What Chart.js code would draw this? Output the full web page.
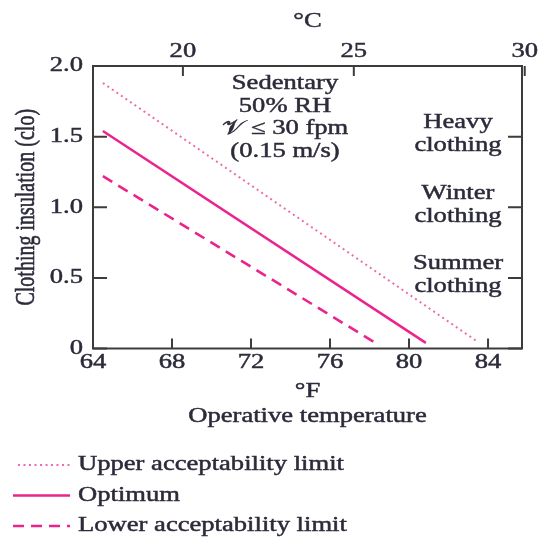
<!DOCTYPE html>
<html>
<head>
<meta charset="utf-8">
<script src="https://cdn.jsdelivr.net/npm/chart.js@4.4.1/dist/chart.umd.min.js"></script>
<style>
  html, body { margin: 0; padding: 0; background: #fff; }
  canvas { display: block; }
</style>
</head>
<body>
<canvas id="chart" width="539" height="537"></canvas>
<script>
(() => {
  'use strict';

  // axis ticks
  const F_TICKS = [64, 68, 72, 76, 80, 84];
  const C_TICKS = [20, 25, 30];
  const CLO_TICKS = [0, 0.5, 1.0, 1.5, 2.0];
  const CLO_LABELS = ['0', '0.5', '1.0', '1.5', '2.0'];

  // comfort lines (operative temperature in F, clothing in clo)
  const UPPER_F = [64.5, 83.45];
  const UPPER_CLO = [1.88, 0.05];
  const OPT_F = [64.5, 80.85];
  const OPT_CLO = [1.54, 0.04];
  const LOWER_F = [64.5, 78.3];
  const LOWER_CLO = [1.22, 0.04];

  const SERIES = ['Upper acceptability limit', 'Optimum', 'Lower acceptability limit'];

  // text blocks inside the plot
  const CONDITIONS = ['Sedentary', '50% RH', '𝒱 ≤ 30 fpm', '(0.15 m/s)'];
  const ZONES = [
    { lines: ['Heavy', 'clothing'], clo: 1.5 },
    { lines: ['Winter', 'clothing'], clo: 1.0 },
    { lines: ['Summer', 'clothing'], clo: 0.5 },
  ];

  const PINK = '#ea248c';
  const PINK_LIGHT = '#f06aae';
  const INK = '#2b2b3a';
  const FRAME = '#3c3c3c';
  const FONT = '20px "Liberation Serif", "Times New Roman", serif';
  const SX = 1.33; // wide type

  const pts = (xs, ys) => xs.map((x, i) => ({ x: x, y: ys[i] }));

  // stretched text helper, lightly stroked for weight
  const put = (ctx, str, x, y, align = 'center', rot = 0) => {
    ctx.save();
    ctx.translate(x, y);
    ctx.scale(SX, 1);
    if (rot) ctx.rotate(rot);
    ctx.textAlign = align;
    ctx.textBaseline = 'middle';
    ctx.fillText(str, 0, 0);
    ctx.lineWidth = 0.45;
    ctx.strokeStyle = INK;
    ctx.strokeText(str, 0, 0);
    ctx.restore();
  };

  // frame, inward ticks, labels and key
  const decor = {
    id: 'decor',
    afterDraw(chart) {
      const ctx = chart.ctx;
      const { left, right, top, bottom } = chart.chartArea;
      const sx = chart.scales.x, sc = chart.scales.x2, sy = chart.scales.y;

      ctx.save();
      ctx.strokeStyle = FRAME;
      ctx.lineWidth = 2;
      ctx.strokeRect(left, top, right - left, bottom - top);

      ctx.beginPath();
      F_TICKS.forEach((v) => {
        const px = sx.getPixelForValue(v);
        ctx.moveTo(px, bottom); ctx.lineTo(px, bottom - 10);
      });
      C_TICKS.forEach((v) => {
        const px = sc.getPixelForValue(v);
        ctx.moveTo(px, top); ctx.lineTo(px, top + 10);
      });
      CLO_TICKS.forEach((v) => {
        const py = sy.getPixelForValue(v);
        ctx.moveTo(left, py); ctx.lineTo(left + 14, py);
        ctx.moveTo(right, py); ctx.lineTo(right - 14, py);
      });
      ctx.stroke();

      ctx.fillStyle = INK;
      ctx.font = FONT;
      F_TICKS.forEach((v) => put(ctx, String(v), sx.getPixelForValue(v), bottom + 14));
      C_TICKS.forEach((v) => put(ctx, String(v), sc.getPixelForValue(v), top - 14));
      CLO_TICKS.forEach((v, i) => put(ctx, CLO_LABELS[i], left - 10, sy.getPixelForValue(v), 'right'));

      const mid = (left + right) / 2;
      put(ctx, '°C', mid, 22);
      put(ctx, '°F', mid, 392);
      put(ctx, 'Operative temperature', mid, 417);
      put(ctx, 'Clothing insulation (clo)', 27, (top + bottom) / 2, 'center', -Math.PI / 2);

      CONDITIONS.forEach((t, i) => put(ctx, t, 285, 84 + i * 22.5));
      ZONES.forEach((z) => {
        const py = sy.getPixelForValue(z.clo);
        put(ctx, z.lines[0], 458, py - 14);
        put(ctx, z.lines[1], 458, py + 9);
      });

      // key below the plot
      chart.data.datasets.forEach((ds, i) => {
        const y = 465 + i * 30.5;
        ctx.save();
        ctx.strokeStyle = ds.borderColor;
        ctx.lineWidth = ds.borderWidth;
        ctx.setLineDash(ds.borderDash || []);
        ctx.beginPath();
        ctx.moveTo(ds.keyFrom, y); ctx.lineTo(70, y);
        ctx.stroke();
        ctx.restore();
        put(ctx, ds.label, 78, y, 'left');
      });
      ctx.restore();
    },
  };

  new Chart(document.getElementById('chart'), {
    type: 'scatter',
    data: {
      datasets: [{
        label: SERIES[0],
        data: pts(UPPER_F, UPPER_CLO),
        borderColor: PINK_LIGHT,
        borderWidth: 2,
        borderDash: [2, 3.5],
        keyFrom: 18,
      }, {
        label: SERIES[1],
        data: pts(OPT_F, OPT_CLO),
        borderColor: PINK,
        borderWidth: 2.5,
        borderDash: [],
        keyFrom: 13,
      }, {
        label: SERIES[2],
        data: pts(LOWER_F, LOWER_CLO),
        borderColor: PINK,
        borderWidth: 2.6,
        borderDash: [11, 7],
        keyFrom: 13,
      }],
    },
    options: {
      responsive: false,
      animation: false,
      showLine: true,
      elements: { point: { radius: 0 }, line: { tension: 0 } },
      layout: { padding: { left: 0, right: 17, top: 0, bottom: 0 } },
      plugins: {
        legend: { display: false },
        tooltip: { enabled: false },
      },
      scales: {
        x: {
          type: 'linear',
          position: 'bottom',
          min: 64,
          max: 85.72,
          grid: { display: false },
          border: { display: false },
          ticks: { display: false },
          afterFit: (s) => { s.height = 188.5; },
        },
        x2: {
          type: 'linear',
          position: 'top',
          min: 17.37,
          max: 29.92,
          grid: { display: false },
          border: { display: false },
          ticks: { display: false },
          afterFit: (s) => { s.height = 66; },
        },
        y: {
          type: 'linear',
          min: 0,
          max: 2,
          grid: { display: false },
          border: { display: false },
          ticks: { display: false },
          afterFit: (s) => { s.width = 93; },
        },
      },
    },
    plugins: [decor],
  });
})();
</script>
</body>
</html>
